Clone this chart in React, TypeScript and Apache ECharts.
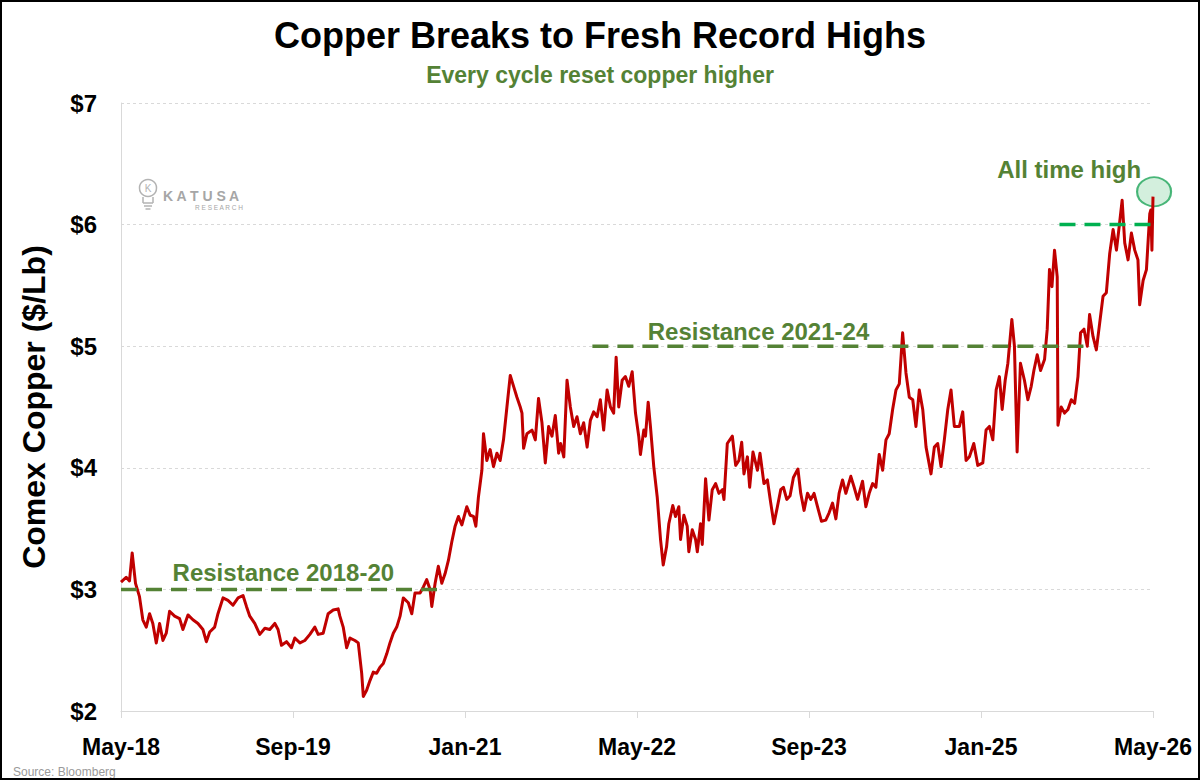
import React, { useEffect, useRef } from "react";
import * as echarts from "echarts";

// ---------- DATA ----------
const xTickLabels = ["May-18", "Sep-19", "Jan-21", "May-22", "Sep-23", "Jan-25", "May-26"];
const monthsPerTick = 16;
const yTickValues = [2, 3, 4, 5, 6, 7];

// months since May 2018
const months = [
  0, 0.48, 0.79, 1.04, 1.35, 1.72, 2.03, 2.35, 2.66, 2.96, 3.28, 3.59, 3.9, 4.21, 4.52, 4.99, 5.45, 5.76, 6.23, 6.69,
  7.16, 7.62, 7.94, 8.25, 8.71, 9.02, 9.49, 9.95, 10.42, 10.89, 11.35, 11.67, 11.98, 12.44, 12.91, 13.38, 13.84, 14.31, 14.61, 14.93,
  15.4, 15.86, 16.17, 16.64, 17.1, 17.57, 18.03, 18.34, 18.81, 19.27, 19.74, 20.2, 20.36, 20.67, 20.99, 21.3, 21.76, 22.07, 22.39, 22.54,
  22.85, 23.16, 23.47, 23.78, 24.09, 24.4, 24.72, 25.02, 25.33, 25.65, 25.96, 26.26, 26.73, 27.05, 27.35, 27.82, 28.13, 28.44, 28.75, 28.91,
  29.22, 29.52, 29.84, 30.15, 30.46, 30.77, 31.08, 31.39, 31.71, 32.01, 32.17, 32.48, 32.79, 33.01, 33.25, 33.57, 33.72, 34.03, 34.34, 34.65,
  34.97, 35.27, 35.58, 35.9, 36.21, 36.52, 36.83, 37.14, 37.3, 37.45, 37.76, 38.23, 38.54, 38.84, 39.16, 39.47, 39.78, 40.09, 40.4, 40.71,
  40.9, 41.19, 41.49, 41.8, 42.11, 42.42, 42.73, 43.04, 43.36, 43.66, 43.97, 44.29, 44.59, 44.9, 45.22, 45.53, 45.83, 46.06, 46.3, 46.62,
  46.92, 47.23, 47.55, 47.86, 48.16, 48.32, 48.63, 48.79, 49.04, 49.25, 49.56, 49.88, 50.19, 50.44, 50.75, 50.96, 51.33, 51.58, 51.89, 52.05,
  52.36, 52.67, 52.82, 53.14, 53.45, 53.61, 53.91, 54.07, 54.38, 54.69, 55.0, 55.31, 55.62, 55.94, 56.09, 56.4, 56.87, 57.18, 57.48, 57.74,
  57.95, 58.27, 58.48, 58.79, 59.2, 59.44, 59.81, 60.13, 60.44, 60.74, 61.06, 61.37, 61.62, 61.93, 62.24, 62.55, 62.97, 63.23, 63.54, 63.86,
  64.17, 64.47, 64.79, 65.16, 65.56, 65.87, 66.19, 66.5, 66.8, 67.12, 67.43, 67.89, 68.2, 68.52, 68.98, 69.29, 69.6, 69.92, 70.22, 70.53,
  70.85, 71.16, 71.46, 71.78, 72.09, 72.4, 72.71, 73.02, 73.33, 73.65, 73.95, 74.26, 74.58, 74.89, 75.35, 75.66, 75.97, 76.28, 76.59, 76.91,
  77.21, 77.52, 77.99, 78.3, 78.61, 78.92, 79.33, 79.7, 80.17, 80.47, 80.78, 81.1, 81.41, 81.71, 81.97, 82.25, 82.5, 82.87, 83.11, 83.36,
  83.67, 84.04, 84.36, 84.67, 84.92, 85.23, 85.54, 85.91, 86.16, 86.37, 86.6, 86.84, 87.09, 87.16, 87.46, 87.77, 88.09, 88.4, 88.71, 89.02,
  89.26, 89.58, 89.89, 90.1, 90.42, 90.73, 91.04, 91.35, 91.66, 91.97, 92.29, 92.6, 92.85, 93.13, 93.37, 93.68, 93.99, 94.3, 94.6, 94.76,
  95.08, 95.39, 95.55, 95.7, 95.8, 95.9, 96.0,
];

// Comex copper, $/lb
const prices = [
  3.06, 3.1, 3.07, 3.3, 3.05, 2.94, 2.75, 2.69, 2.8, 2.72, 2.56, 2.72, 2.58, 2.64, 2.82, 2.78, 2.76, 2.67, 2.79, 2.75,
  2.72, 2.67, 2.57, 2.65, 2.69, 2.8, 2.93, 2.91, 2.87, 2.93, 2.95, 2.86, 2.78, 2.72, 2.63, 2.68, 2.67, 2.72, 2.67, 2.54,
  2.57, 2.52, 2.6, 2.56, 2.58, 2.63, 2.69, 2.63, 2.64, 2.8, 2.83, 2.84, 2.78, 2.69, 2.52, 2.6, 2.58, 2.56, 2.31, 2.12,
  2.17, 2.25, 2.32, 2.31, 2.36, 2.39, 2.47, 2.56, 2.64, 2.69, 2.78, 2.93, 2.89, 2.8, 2.97, 2.97, 3.02, 3.08, 3.0, 2.86,
  3.05, 3.19, 3.05, 3.13, 3.24, 3.39, 3.52, 3.6, 3.53, 3.63, 3.68, 3.61, 3.6, 3.52, 3.76, 3.98, 4.28, 4.06, 4.15, 4.01,
  4.12, 4.06, 4.23, 4.5, 4.76, 4.67, 4.58, 4.5, 4.45, 4.16, 4.28, 4.31, 4.23, 4.57, 4.37, 4.04, 4.34, 4.26, 4.43, 4.12,
  4.2, 4.09, 4.72, 4.5, 4.34, 4.42, 4.28, 4.37, 4.17, 4.39, 4.46, 4.42, 4.56, 4.31, 4.64, 4.5, 4.45, 4.91, 4.5, 4.72,
  4.75, 4.67, 4.79, 4.45, 4.26, 4.11, 4.31, 4.26, 4.54, 4.34, 4.01, 3.76, 3.41, 3.2, 3.35, 3.54, 3.69, 3.6, 3.68, 3.41,
  3.61, 3.52, 3.31, 3.49, 3.41, 3.31, 3.54, 3.37, 3.91, 3.57, 3.82, 3.87, 3.79, 3.82, 3.74, 4.2, 4.26, 4.02, 4.06, 4.21,
  3.95, 4.09, 3.84, 4.13, 3.98, 4.12, 3.87, 3.9, 3.71, 3.54, 3.68, 3.82, 3.84, 3.74, 3.77, 3.92, 3.99, 3.79, 3.65, 3.79,
  3.74, 3.79, 3.68, 3.56, 3.57, 3.63, 3.71, 3.58, 3.79, 3.9, 3.79, 3.93, 3.84, 3.74, 3.89, 3.68, 3.79, 3.87, 3.84, 4.11,
  3.98, 4.23, 4.28, 4.48, 4.64, 4.69, 5.11, 4.78, 4.58, 4.56, 4.34, 4.64, 4.48, 4.17, 3.95, 4.17, 4.2, 4.01, 4.23, 4.48,
  4.64, 4.34, 4.34, 4.46, 4.06, 4.09, 4.2, 4.02, 4.04, 4.31, 4.34, 4.23, 4.64, 4.75, 4.48, 4.72, 4.86, 5.22, 5.0, 4.13,
  4.86, 4.72, 4.56, 4.67, 4.8, 4.93, 4.8, 4.89, 5.14, 5.63, 5.49, 5.79, 5.57, 4.35, 4.5, 4.45, 4.48, 4.56, 4.53, 4.75,
  5.11, 5.14, 5.0, 5.26, 5.08, 4.97, 5.19, 5.41, 5.44, 5.76, 5.96, 5.79, 5.98, 6.2, 5.85, 5.71, 5.93, 5.79, 5.71, 5.34,
  5.54, 5.63, 5.87, 6.09, 6.12, 5.79, 6.23,
];

// resistance lines: months along the line, level
const resistance2018Months = [0, 15.1, 29.7];
const resistance2018Level = 3;
const resistance2021Months = [43.85, 59.3, 90.1];
const resistance2021Level = 5;
const breakoutMonths = [87.3, 98.0];
const breakoutLevel = 6;
const allTimeHighPoint = [96.1, 6.27];

// text annotations (anchored in data space)
const annotationTexts = ["Resistance 2018-20", "Resistance 2021-24", "All time high"];
const annotationPoints = [
  [15.1, 3.14],
  [59.3, 5.12],
  [88.2, 6.45],
];

const GREEN = "#548235";
const BRIGHT_GREEN = "#00B050";
const RED = "#C00000";
const FONT = "'Liberation Sans', Arial, sans-serif";

export default function App() {
  const ref = useRef<HTMLDivElement>(null);

  useEffect(() => {
    if (!ref.current) return;
    const chart = echarts.init(ref.current, undefined, { renderer: "svg" });

    const priceData = months.map((m, i) => [m, prices[i]]);
    const dash = [16, 9];

    const option: any = {
      animation: false,
      backgroundColor: "#ffffff",
      textStyle: { fontFamily: FONT },
      title: [
        {
          text: "Copper Breaks to Fresh Record Highs",
          left: "center",
          top: 12,
          textStyle: { fontFamily: FONT, fontSize: 36, fontWeight: "bold", color: "#000" },
        },
        {
          text: "Every cycle reset copper higher",
          left: "center",
          top: 58,
          textStyle: { fontFamily: FONT, fontSize: 23, fontWeight: "bold", color: GREEN },
        },
      ],
      grid: { left: 121, right: 47, top: 103, bottom: 69 },
      xAxis: {
        type: "value",
        min: 0,
        max: 96,
        interval: monthsPerTick,
        axisLine: { show: true, lineStyle: { color: "#d9d9d9", width: 1 } },
        axisTick: { show: true, length: 7, lineStyle: { color: "#d9d9d9" } },
        splitLine: { show: false },
        axisLabel: {
          margin: 24,
          fontFamily: FONT,
          fontSize: 23,
          fontWeight: "bold",
          color: "#000",
          formatter: (v: number) => {
            const idx = Math.round(v / monthsPerTick);
            return Math.abs(v - idx * monthsPerTick) < 1e-6 ? xTickLabels[idx] ?? "" : "";
          },
        },
      },
      yAxis: {
        type: "value",
        min: yTickValues[0],
        max: yTickValues[yTickValues.length - 1],
        interval: 1,
        name: "Comex Copper ($/Lb)",
        nameLocation: "middle",
        nameRotate: 90,
        nameGap: 71,
        nameTextStyle: { fontFamily: FONT, fontSize: 32, fontWeight: "bold", color: "#000" },
        axisLine: { show: true, lineStyle: { color: "#d9d9d9", width: 1 } },
        axisTick: { show: false },
        splitLine: { show: true, lineStyle: { color: "#d9d9d9", type: [3, 3], width: 1 } },
        axisLabel: {
          margin: 24,
          fontFamily: FONT,
          fontSize: 24,
          fontWeight: "bold",
          color: "#000",
          formatter: (v: number) => "$" + v,
        },
      },
      series: [
        {
          name: "ATH marker",
          type: "scatter",
          data: [allTimeHighPoint],
          symbol: "circle",
          symbolSize: [34, 29],
          clip: false,
          silent: true,
          z: 1,
          itemStyle: { color: "rgba(146, 214, 170, 0.5)", borderColor: "#1fa55a", borderWidth: 2 },
        },
        {
          name: "Comex Copper",
          type: "line",
          data: priceData,
          symbol: "none",
          showSymbol: false,
          silent: true,
          z: 2,
          lineStyle: { color: RED, width: 3, join: "round" },
        },
        {
          name: "Resistance 2018-20",
          type: "line",
          data: resistance2018Months.map((m) => [m, resistance2018Level]),
          symbol: "none",
          silent: true,
          clip: false,
          z: 3,
          lineStyle: { color: GREEN, width: 3.5, type: dash },
        },
        {
          name: "Resistance 2021-24",
          type: "line",
          data: resistance2021Months.map((m) => [m, resistance2021Level]),
          symbol: "none",
          silent: true,
          clip: false,
          z: 3,
          lineStyle: { color: GREEN, width: 3.5, type: dash },
        },
        {
          name: "Breakout $6",
          type: "line",
          data: breakoutMonths.map((m) => [m, breakoutLevel]),
          symbol: "none",
          silent: true,
          clip: false,
          z: 3,
          lineStyle: { color: BRIGHT_GREEN, width: 3.5, type: dash },
        },
        {
          name: "Annotations",
          type: "scatter",
          symbolSize: 1,
          clip: false,
          silent: true,
          z: 4,
          itemStyle: { color: GREEN, opacity: 0 },
          data: annotationPoints.map((p, i) => ({
            value: p,
            label: {
              show: true,
              position: "inside",
              formatter: annotationTexts[i],
              fontFamily: FONT,
              fontSize: 24,
              fontWeight: "bold",
              color: GREEN,
              opacity: 1,
              textBorderWidth: 0,
              textBorderColor: "transparent",
            },
          })),
        },
      ],
      graphic: [
        // Katusa Research logo
        {
          type: "group",
          silent: true,
          children: [
            { type: "circle", shape: { cx: 148, cy: 188, r: 8.5 }, style: { fill: "none", stroke: "#b3b3b3", lineWidth: 1.5 } },
            {
              type: "text",
              x: 148,
              y: 188,
              style: { text: "K", fontSize: 10, fontFamily: FONT, fill: "#b3b3b3", align: "center", verticalAlign: "middle", textAlign: "center", textVerticalAlign: "middle" },
            },
            { type: "line", shape: { x1: 143, y1: 197, x2: 143, y2: 203 }, style: { stroke: "#b3b3b3", lineWidth: 1.5 } },
            { type: "line", shape: { x1: 153, y1: 197, x2: 153, y2: 203 }, style: { stroke: "#b3b3b3", lineWidth: 1.5 } },
            { type: "line", shape: { x1: 143, y1: 203, x2: 153, y2: 203 }, style: { stroke: "#b3b3b3", lineWidth: 1.5 } },
            { type: "line", shape: { x1: 144, y1: 206, x2: 152, y2: 206 }, style: { stroke: "#b3b3b3", lineWidth: 1.5 } },
            { type: "line", shape: { x1: 145.5, y1: 209, x2: 150.5, y2: 209 }, style: { stroke: "#b3b3b3", lineWidth: 1.5 } },
            {
              type: "text",
              x: 163,
              y: 196,
              style: { text: "K A T U S A", fontSize: 14, fontWeight: "bold", fontFamily: FONT, fill: "#a6a6a6", verticalAlign: "middle", textVerticalAlign: "middle" },
            },
            {
              type: "text",
              x: 195,
              y: 207,
              style: { text: "R E S E A R C H", fontSize: 6.5, fontFamily: FONT, fill: "#a6a6a6", verticalAlign: "middle", textVerticalAlign: "middle" },
            },
          ],
        },
        {
          type: "text",
          x: 13,
          y: 772,
          silent: true,
          style: { text: "Source: Bloomberg", fontSize: 12, fontFamily: FONT, fill: "#9a9a9a", verticalAlign: "middle", textVerticalAlign: "middle" },
        },
        {
          type: "rect",
          silent: true,
          z: 100,
          shape: { x: 1, y: 1, width: 1198, height: 778 },
          style: { fill: "none", stroke: "#000", lineWidth: 2 },
        },
      ],
    };

    chart.setOption(option);
    return () => chart.dispose();
  }, []);

  return (
    <div
      ref={ref}
      style={{ position: "absolute", left: 0, top: 0, width: 1200, height: 780, background: "#fff" }}
    />
  );
}
